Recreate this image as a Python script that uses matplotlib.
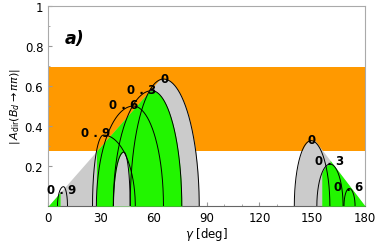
import numpy as np
import matplotlib
matplotlib.use("Agg")
import matplotlib.pyplot as plt

# ---- data ----
# arches: (label, left foot, peak gamma, peak value, right foot)
left_labels = ["0.9", "0.9", "0.6", "0.3", "0"]
left_a = [5.3, 25.2, 27.4, 37.0, 46.6]
left_c = [8.7, 31.4, 48.4, 58.9, 65.5]
left_h = [0.097, 0.355, 0.50, 0.577, 0.635]
left_b = [11.0, 49.5, 65.5, 75.9, 85.8]

right_labels = ["0", "0.3", "0.6"]
right_a = [139.8, 152.6, 168.0]
right_c = [149.3, 160.1, 171.0]
right_h = [0.327, 0.21, 0.088]
right_b = [160.0, 167.5, 174.3]

# gray gap between green bands (left group)
gap_a, gap_c, gap_h, gap_b = 37.1, 43.0, 0.27, 46.6

# experimental band
band_lo, band_hi = 0.275, 0.695
# bounding wedges  y <= k*gamma  and y <= k*(180-gamma)
k_left, k_right = 0.0100, 0.0115

# label positions (gamma, value)
lab_text = ["0.9", "0.9", "0.6", "0.3", "0", "0", "0.3", "0.6"]
lab_x = [7.4, 26.7, 42.9, 53.1, 65.9, 149.6, 160.1, 170.9]
lab_y = [0.085, 0.37, 0.51, 0.585, 0.64, 0.335, 0.227, 0.10]

xticks = [0, 30, 60, 90, 120, 150, 180]
yticks = [0.2, 0.4, 0.6, 0.8, 1.0]
ytick_labels = ["0.2", "0.4", "0.6", "0.8", "1"]

ORANGE = "#FF9900"
GREEN = "#22F500"
GRAY = "#CBCBCB"


def arch(g, a, c, h, b):
    y = np.zeros_like(g)
    m = (g >= a) & (g <= c)
    y[m] = h * np.sqrt(np.clip(1 - ((c - g[m]) / (c - a)) ** 2, 0, 1))
    m = (g > c) & (g <= b)
    y[m] = h * np.sqrt(np.clip(1 - ((g[m] - c) / (b - c)) ** 2, 0, 1))
    return y


def arch_curve(a, c, h, b, n=200):
    t = np.linspace(0, np.pi / 2, n)
    xl = c - (c - a) * np.cos(t)
    yl = h * np.sin(t)
    xr = c + (b - c) * np.sin(t)
    yr = h * np.cos(t)
    return np.concatenate([xl, xr]), np.concatenate([yl, yr])


fig = plt.figure(figsize=(3.76, 2.51), dpi=100)
ax = fig.add_axes([0.128, 0.175, 0.843, 0.797])

g = np.linspace(0, 180, 7201)
WL = k_left * g
WR = k_right * (180 - g)

# orange band
ax.fill_between([0, 180], band_lo, band_hi, color=ORANGE, lw=0, zorder=1)

# ---- left group ----
L = [arch(g, a, c, h, b) for a, c, h, b in zip(left_a, left_c, left_h, left_b)]
env_all = np.maximum.reduce(L[1:])
U = np.where(g < left_c[1], np.inf, env_all)
gray_top = np.minimum(WL, U)
mL = g <= left_b[-1]
ax.fill_between(g[mL], 0, gray_top[mL], color=GRAY, lw=0, zorder=2)

# small green triangle
ms = g <= 6.8
ax.fill_between(g[ms], 0, WL[ms], color=GREEN, lw=0, zorder=3)
# big green
env_g = np.maximum.reduce(L[1:4])
green_top = np.minimum(WL, env_g)
mg = (g >= left_a[2]) & (g <= left_b[3])
ax.fill_between(g[mg], 0, green_top[mg], color=GREEN, lw=0, zorder=3)
# gray gap
gap = arch(g, gap_a, gap_c, gap_h, gap_b)
mgap = (g >= gap_a) & (g <= gap_b)
ax.fill_between(g[mgap], 0, gap[mgap], color=GRAY, lw=0, zorder=3.5)

# ---- right group ----
R = [arch(g, a, c, h, b) for a, c, h, b in zip(right_a, right_c, right_h, right_b)]
gray_r = np.where(g >= right_c[0], np.maximum(R[0], np.minimum(WR, right_h[0])), R[0])
mR = g >= right_a[0]
ax.fill_between(g[mR], 0, gray_r[mR], color=GRAY, lw=0, zorder=2)
green_r = np.where(g < right_c[1], np.minimum(WR, R[1]), WR)
mgr = g >= 155.4
ax.fill_between(g[mgr], 0, green_r[mgr], color=GREEN, lw=0, zorder=3)

# arch outlines
for a, c, h, b in list(zip(left_a, left_c, left_h, left_b)) + list(zip(right_a, right_c, right_h, right_b)):
    xs, ys = arch_curve(a, c, h, b)
    ax.plot(xs, ys, color="black", lw=0.7, zorder=4)
xs, ys = arch_curve(gap_a, gap_c, gap_h, gap_b)
ax.plot(xs, ys, color="black", lw=0.7, zorder=4)

# labels
for t, x, y in zip(lab_text, lab_x, lab_y):
    s = " . ".join(t.split(".")) if "." in t else t
    ax.text(x, y, s, ha="center", va="center", fontsize=8.5, fontweight="bold",
            family="DejaVu Sans", zorder=6)

ax.text(14.8, 0.84, "a)", ha="center", va="center", fontsize=12.5,
        fontweight="bold", fontstyle="italic", zorder=6)

ax.set_xlim(0, 180)
ax.set_ylim(0, 1)
ax.set_xticks(xticks)
ax.set_yticks(yticks)
ax.set_yticklabels(ytick_labels)
ax.set_xticks(np.arange(0, 181, 10), minor=True)
ax.set_yticks(np.arange(0, 1.01, 0.1), minor=True)
ax.tick_params(which="both", direction="in", color="#999999", labelsize=8.5,
               top=False, right=False)
ax.tick_params(which="major", length=3)
ax.tick_params(which="minor", length=1.5)
for sp in ax.spines.values():
    sp.set_color("#AAAAAA")
    sp.set_linewidth(0.8)
ax.spines["bottom"].set_color("#666666")

ax.set_xlabel(r"$\gamma$ [deg]", fontsize=8.5, labelpad=1)
ax.set_ylabel(r"$|\,A_{\rm dir}(B_d\to\pi\pi)|$", fontsize=8, labelpad=2)

fig.savefig("out.png", dpi=100)
